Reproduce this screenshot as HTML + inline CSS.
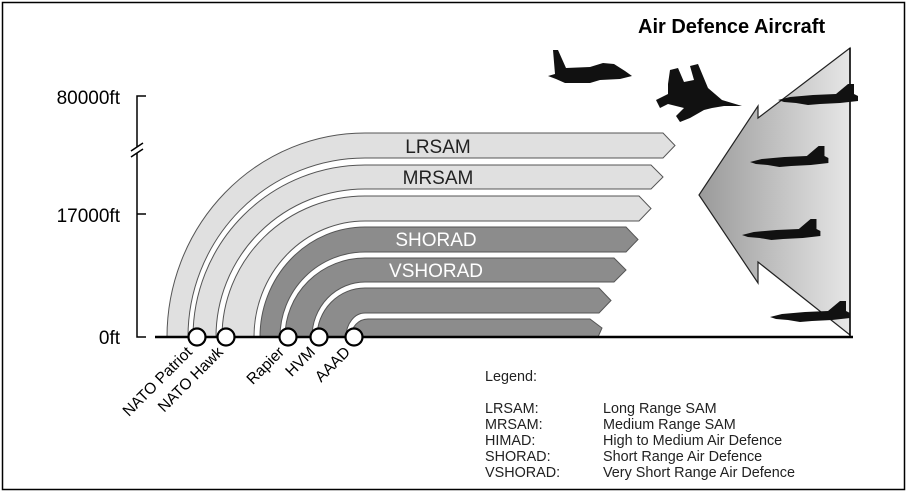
<!DOCTYPE html>
<html><head><meta charset="utf-8"><style>
html,body{margin:0;padding:0;background:#fff}
svg{display:block;font-family:"Liberation Sans",Arial,sans-serif}
</style></head><body>
<svg width="908" height="492" viewBox="0 0 908 492" xmlns="http://www.w3.org/2000/svg">
<defs>
<linearGradient id="g" x1="0" x2="1" y1="0" y2="0">
<stop offset="0" stop-color="#9a9a9a"/><stop offset="1" stop-color="#e6e6e6"/>
</linearGradient>
<path id="j" d="M0,10 L12,7 L35,5 L58,4 L70,-6 L76,-6 L76,4 L80,6 L80,11 L62,13 L42,14 L30,15 L18,13 L6,12 Z"/>
</defs>
<rect x="2.5" y="2.5" width="902" height="487" fill="#fff" stroke="#000" stroke-width="1.5"/>
<text x="638" y="33" font-size="20" font-weight="bold">Air Defence Aircraft</text>

<!-- axis -->
<g stroke="#000" stroke-width="1.5" fill="none">
<path d="M146,96 H137 V147 M137,153 V337 H146"/>
<path d="M137,214 H146"/>
</g>
<rect x="134" y="147" width="6" height="6" fill="#fff"/>
<path d="M131,151 L143,143 M131,157 L143,149" stroke="#000" stroke-width="1.5"/>
<text x="120" y="104" font-size="19" text-anchor="end">80000ft</text>
<text x="120" y="222" font-size="19" text-anchor="end">17000ft</text>
<text x="120" y="344" font-size="19" text-anchor="end">0ft</text>

<!-- bands -->
<g stroke="#555" stroke-width="1">
<path fill="#e0e0e0" d="M167,337 A198,204 0 0 1 365,133 L663,133 L675,145.5 L663,158 L365,158 A177,179 0 0 0 188,337 Z"/>
<path fill="#e0e0e0" d="M193,337 A172,172 0 0 1 365,165 L651,165 L663,177 L651,189 L365,189 A149,148 0 0 0 216,337 Z"/>
<path fill="#e0e0e0" d="M222,337 A143,141 0 0 1 365,196 L639,196 L651,208.5 L639,221 L365,221 A111,116 0 0 0 254,337 Z"/>
<path fill="#8c8c8c" d="M260,337 A105,110 0 0 1 365,227 L626,227 L638,239.5 L626,252 L365,252 A85,85 0 0 0 280,337 Z"/>
<path fill="#8c8c8c" d="M285,337 A80,79 0 0 1 365,258 L614,258 L626,270 L614,282 L365,282 A53,55 0 0 0 312,337 Z"/>
<path fill="#8c8c8c" d="M317,337 A48,49 0 0 1 365,288 L599,288 L611,300.5 L599,313 L365,313 A19,24 0 0 0 346,337 Z"/>
<path fill="#8c8c8c" d="M351,337 A17,18 0 0 1 368,319 L590,319 L602,328 L598,337 Z"/>
</g>
<text x="438" y="153" font-size="19" text-anchor="middle" fill="#222">LRSAM</text>
<text x="438" y="184" font-size="19" text-anchor="middle" fill="#222">MRSAM</text>
<text x="436" y="246" font-size="19" text-anchor="middle" fill="#fff">SHORAD</text>
<text x="436" y="277" font-size="19" text-anchor="middle" fill="#fff">VSHORAD</text>

<!-- right triangle -->
<path d="M850,48 L758,118 L758,106 L699,195 L758,283 L758,262 L850,335 Z" fill="url(#g)" stroke="#222" stroke-width="1.2"/>
<line x1="850" y1="48" x2="850" y2="337" stroke="#000" stroke-width="1.5"/>

<!-- baseline -->
<line x1="155" y1="337" x2="853" y2="337" stroke="#000" stroke-width="2.5"/>
<g fill="#fff" stroke="#000" stroke-width="2.2">
<circle cx="197" cy="337" r="8.5"/><circle cx="226" cy="337" r="8.5"/>
<circle cx="288" cy="337" r="8.5"/><circle cx="319" cy="337" r="8.5"/><circle cx="354" cy="337" r="8.5"/>
</g>
<g font-size="15.5" text-anchor="end">
<text transform="translate(193,353) rotate(-45)">NATO Patriot</text>
<text transform="translate(224,353) rotate(-45)">NATO Hawk</text>
<text transform="translate(285,353) rotate(-45)">Rapier</text>
<text transform="translate(316,353) rotate(-45)">HVM</text>
<text transform="translate(351,353) rotate(-45)">AAAD</text>
</g>

<!-- aircraft -->
<g fill="#111">
<path d="M553,50 L558,50 L566,68 L590,67 L603,63 L614,64 L625,71 L632,76 L620,79 L600,80 L590,83 L565,83 L556,79 L548,76 L555,74 Z"/>
<path d="M670,70 L678,68 L684,82 L694,80 L690,66 L698,64 L708,88 L722,100 L742,106 L724,106 L712,108 L704,110 L690,118 L680,122 L676,116 L684,108 L668,104 L660,108 L656,100 L668,94 L668,84 Z"/>
<use href="#j" transform="translate(778,90)"/>
<use href="#j" transform="translate(750,152) scale(0.98,1)"/>
<use href="#j" transform="translate(742,225) scale(0.98,1)"/>
<use href="#j" transform="translate(770,307)"/>
</g>

<!-- legend -->
<g font-size="14.4" fill="#222">
<text x="485" y="381">Legend:</text>
<text x="485" y="413">LRSAM:</text><text x="603" y="413">Long Range SAM</text>
<text x="485" y="429">MRSAM:</text><text x="603" y="429">Medium Range SAM</text>
<text x="485" y="445">HIMAD:</text><text x="603" y="445">High to Medium Air Defence</text>
<text x="485" y="461">SHORAD:</text><text x="603" y="461">Short Range Air Defence</text>
<text x="485" y="477">VSHORAD:</text><text x="603" y="477">Very Short Range Air Defence</text>
</g>
</svg>
</body></html>
